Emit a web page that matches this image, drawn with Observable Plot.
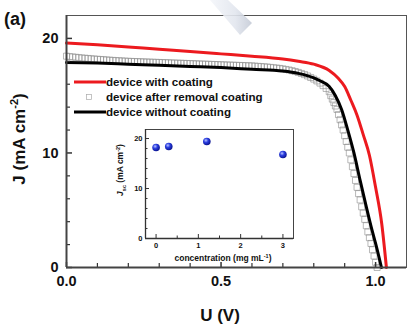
<!DOCTYPE html>
<html>
<head>
<meta charset="utf-8">
<script src="https://cdn.jsdelivr.net/npm/d3@7"></script>
<script src="https://cdn.jsdelivr.net/npm/@observablehq/plot@0.6"></script>
<style>
  html, body { margin: 0; padding: 0; background: #fff; }
  #wrap { position: relative; width: 407px; height: 326px; overflow: hidden; font-family: "Liberation Sans", Arial, sans-serif; }
  #wrap svg { position: absolute; }
</style>
</head>
<body>
<div id="wrap"></div>
<script>
// ---------- data ----------
const uRed = [0, 0.1, 0.2, 0.3, 0.4, 0.5, 0.6, 0.7, 0.75, 0.8, 0.85, 0.88, 0.9, 0.92, 0.94, 0.96, 0.98, 1.0, 1.02, 1.035];
const jRed = [19.6, 19.45, 19.25, 19.05, 18.85, 18.65, 18.45, 18.2, 18.0, 17.75, 17.2, 16.5, 15.8, 14.6, 13.3, 11.6, 9.8, 7.0, 3.8, 0];

const uBlack = [0, 0.1, 0.2, 0.3, 0.4, 0.5, 0.6, 0.7, 0.75, 0.8, 0.82, 0.85, 0.87, 0.89, 0.91, 0.93, 0.95, 0.97, 0.99, 1.0, 1.019];
const jBlack = [17.9, 17.85, 17.75, 17.65, 17.55, 17.45, 17.3, 17.15, 16.95, 16.55, 16.3, 15.8, 15.0, 13.8, 12.0, 10.0, 7.6, 5.3, 3.1, 2.1, 0];

const uGray = [
  0.00, 0.01, 0.02, 0.03, 0.04, 0.05, 0.06, 0.07, 0.08, 0.09,
  0.10, 0.11, 0.12, 0.13, 0.14, 0.15, 0.16, 0.17, 0.18, 0.19,
  0.20, 0.21, 0.22, 0.23, 0.24, 0.25, 0.26, 0.27, 0.28, 0.29,
  0.30, 0.31, 0.32, 0.33, 0.34, 0.35, 0.36, 0.37, 0.38, 0.39,
  0.40, 0.41, 0.42, 0.43, 0.44, 0.45, 0.46, 0.47, 0.48, 0.49,
  0.50, 0.51, 0.52, 0.53, 0.54, 0.55, 0.56, 0.57, 0.58, 0.59,
  0.60, 0.61, 0.62, 0.63, 0.64, 0.65, 0.66, 0.67, 0.68, 0.69,
  0.70, 0.71, 0.72, 0.73, 0.74, 0.75, 0.76, 0.77, 0.78, 0.79,
  0.80, 0.81, 0.82, 0.83, 0.84, 0.85,
  0.855, 0.860, 0.865, 0.870, 0.875, 0.880, 0.885, 0.890, 0.895, 0.900,
  0.905, 0.910, 0.915, 0.920, 0.925, 0.930, 0.935, 0.940, 0.945, 0.950,
  0.955, 0.960, 0.965, 0.970, 0.975, 0.980, 0.985, 0.990, 0.995, 1.000,
  1.005
];
const jGray = [
  18.45, 18.41, 18.38, 18.35, 18.32, 18.29, 18.27, 18.25, 18.22, 18.20,
  18.18, 18.16, 18.14, 18.12, 18.10, 18.08, 18.06, 18.05, 18.03, 18.02,
  18.00, 17.99, 17.98, 17.97, 17.96, 17.95, 17.94, 17.93, 17.92, 17.91,
  17.90, 17.89, 17.88, 17.87, 17.86, 17.85, 17.84, 17.83, 17.82, 17.81,
  17.80, 17.79, 17.78, 17.77, 17.76, 17.75, 17.74, 17.73, 17.72, 17.71,
  17.70, 17.69, 17.68, 17.67, 17.66, 17.65, 17.64, 17.63, 17.62, 17.61,
  17.60, 17.58, 17.56, 17.54, 17.52, 17.50, 17.47, 17.44, 17.41, 17.38,
  17.34, 17.29, 17.24, 17.18, 17.11, 17.03, 16.94, 16.84, 16.72, 16.59,
  16.45, 16.29, 16.10, 15.88, 15.63, 15.35,
  15.0, 14.7, 14.4, 14.1, 13.8, 13.35, 12.9, 12.45, 12.0, 11.5,
  11.0, 10.5, 10.0, 9.4, 8.8, 8.2, 7.6, 7.0, 6.45, 5.9,
  5.3, 4.75, 4.2, 3.65, 3.1, 2.6, 2.1, 1.55, 1.0, 0.45,
  0.0
];

const seriesNames = ["device with coating", "device after removal coating", "device without coating"];

// inset
const concentration = [0, 0.3, 1.2, 3];
const jsc = [18.2, 18.4, 19.4, 16.8];

// ticks
const xMajor = [0, 0.5, 1.0];
const xMinor = [0.1, 0.2, 0.3, 0.4, 0.6, 0.7, 0.8, 0.9];
const yMajor = [0, 10, 20];
const yMinor = [2, 4, 6, 8, 12, 14, 16, 18];
const inXMajor = [0, 1, 2, 3];
const inXMinor = [0.5, 1.5, 2.5];
const inYMajor = [0, 10, 20];
const inYMinor = [2, 4, 6, 8, 12, 14, 16, 18];

// ---------- build ----------
const zipUJ = (u, j) => u.map((d, i) => ({u: d, j: j[i]}));
const red = zipUJ(uRed, jRed);
const black = zipUJ(uBlack, jBlack);
const gray = zipUJ(uGray, jGray);
const inset = concentration.map((c, i) => ({c, j: jsc[i]}));

const FONT = "'Liberation Sans', Arial, sans-serif";
const W = 407, H = 326, ML = 66, MR = 1, MT = 15, MB = 59;
const PW = W - ML - MR, PH = H - MT - MB;

const main = Plot.plot({
  width: W, height: H,
  marginLeft: ML, marginRight: MR, marginTop: MT, marginBottom: MB,
  style: {fontFamily: FONT, background: "transparent", color: "#111"},
  x: {domain: [0, 1.1]},
  y: {domain: [0, 22]},
  marks: [
    Plot.frame({stroke: "#555", strokeWidth: 1}),
    Plot.dot(gray, {x: "u", y: "j", symbol: "square", r: 3.4, stroke: "#8a8a8a", strokeWidth: 0.6, fill: "none"}),
    Plot.line(black, {x: "u", y: "j", stroke: "#000", strokeWidth: 3, curve: "monotone-x"}),
    Plot.line(red, {x: "u", y: "j", stroke: "#ec1a1f", strokeWidth: 3, curve: "monotone-x"}),
    Plot.tickY(yMajor, {y: d => d, insetRight: PW - 6, stroke: "#333", strokeWidth: 1.5}),
    Plot.tickY(yMinor, {y: d => d, insetRight: PW - 4, stroke: "#333", strokeWidth: 1.2}),
    Plot.tickX(xMajor, {x: d => d, insetTop: PH - 5, stroke: "#333", strokeWidth: 1.5}),
    Plot.tickX(xMinor, {x: d => d, insetTop: PH - 4, stroke: "#333", strokeWidth: 1.2}),
    Plot.axisX(xMajor, {tickSize: 0, tickPadding: 8, tickFormat: d3.format(".1f"), fontSize: 14.5, fontWeight: "bold", label: null}),
    Plot.axisY(yMajor, {tickSize: 0, tickPadding: 8, fontSize: 14.5, fontWeight: "bold", label: null}),
    Plot.ruleX([0], {stroke: "#444", strokeWidth: 2}),
    Plot.ruleY([0], {stroke: "#444", strokeWidth: 2})
  ]
});
main.style.left = "0px"; main.style.top = "0px";
document.getElementById("wrap").appendChild(main);

const ms = d3.select(main);
// (a)
ms.append("text").attr("x", 4).attr("y", 25).attr("text-anchor", "start").attr("font-size", 18).attr("font-weight", "bold")
  .attr("font-family", FONT).attr("fill", "#111").text("(a)");
// x label
ms.append("text").attr("x", 220).attr("y", 321).attr("text-anchor", "middle").attr("font-size", 17)
  .attr("font-weight", "bold").attr("font-family", FONT).attr("fill", "#111").text("U (V)");
// y label
const yl = ms.append("text").attr("transform", "translate(25,139) rotate(-90)").attr("text-anchor", "middle")
  .attr("font-size", 17).attr("font-weight", "bold").attr("font-family", FONT).attr("fill", "#111");
yl.append("tspan").text("J (mA cm");
yl.append("tspan").attr("dy", -7).attr("font-size", 11).text("-2");
yl.append("tspan").attr("dy", 7).text(")");

// legend
const lg = ms.append("g").attr("font-family", FONT).attr("font-weight", "bold").attr("font-size", 11.6)
  .attr("fill", "#111").attr("text-anchor", "start");
lg.append("line").attr("x1", 74).attr("x2", 106).attr("y1", 82).attr("y2", 82).attr("stroke", "#ec1a1f").attr("stroke-width", 3);
lg.append("text").attr("x", 106).attr("y", 86).text(seriesNames[0]);
lg.append("rect").attr("x", 86.5).attr("y", 94.5).attr("width", 5).attr("height", 5).attr("fill", "none").attr("stroke", "#aaa").attr("stroke-width", 0.7);
lg.append("text").attr("x", 106).attr("y", 101).text(seriesNames[1]);
lg.append("line").attr("x1", 74).attr("x2", 106).attr("y1", 112).attr("y2", 112).attr("stroke", "#000").attr("stroke-width", 3);
lg.append("text").attr("x", 106).attr("y", 116).text(seriesNames[2]);

// decorative stick at top (scan artifact)
const defsM = ms.append("defs");
const sg = defsM.append("linearGradient").attr("id", "stick").attr("x1", 0).attr("y1", 0).attr("x2", 1).attr("y2", 0);
sg.append("stop").attr("offset", 0).attr("stop-color", "#f4f6fa");
sg.append("stop").attr("offset", 0.6).attr("stop-color", "#e2e6ee");
sg.append("stop").attr("offset", 1).attr("stop-color", "#c4cad6");
ms.append("polygon").attr("points", "210,0 228,0 252,23 240,35").attr("fill", "url(#stick)").attr("opacity", 0.9);

// ---------- inset ----------
const IW = 190, IH = 145, IML = 35, IMR = 7, IMT = 4, IMB = 32;
const IPW = IW - IML - IMR, IPH = IH - IMT - IMB;
const ins = Plot.plot({
  width: IW, height: IH,
  marginLeft: IML, marginRight: IMR, marginTop: IMT, marginBottom: IMB,
  style: {fontFamily: FONT, background: "transparent", color: "#111"},
  x: {domain: [-0.25, 3.25]},
  y: {domain: [0, 21.8]},
  marks: [
    Plot.frame({stroke: "#444", strokeWidth: 1}),
    Plot.tickY(inYMajor, {y: d => d, insetRight: IPW - 4, stroke: "#333"}),
    Plot.tickY(inYMinor, {y: d => d, insetRight: IPW - 2.5, stroke: "#333"}),
    Plot.tickX(inXMajor, {x: d => d, insetTop: IPH - 4, stroke: "#333"}),
    Plot.tickX(inXMinor, {x: d => d, insetTop: IPH - 2.5, stroke: "#333"}),
    Plot.axisX(inXMajor, {tickSize: 0, tickPadding: 4, fontSize: 7.5, fontWeight: "bold", label: null}),
    Plot.axisY(inYMajor, {tickSize: 0, tickPadding: 3, fontSize: 7.5, fontWeight: "bold", label: null}),
    Plot.ruleX([-0.25], {stroke: "#333", strokeWidth: 1.3}),
    Plot.ruleY([0], {stroke: "#333", strokeWidth: 1.3}),
    Plot.dot(inset, {x: "c", y: "j", r: 3.8, fill: "url(#ball)", stroke: "none"})
  ]
});
ins.style.left = "110px"; ins.style.top = "125px";
document.getElementById("wrap").appendChild(ins);
const is = d3.select(ins);
const bg = is.insert("defs", ":first-child").append("radialGradient").attr("id", "ball")
  .attr("cx", 0.38).attr("cy", 0.35).attr("r", 0.65);
bg.append("stop").attr("offset", 0).attr("stop-color", "#b8c4ff");
bg.append("stop").attr("offset", 0.45).attr("stop-color", "#2a3de0");
bg.append("stop").attr("offset", 1).attr("stop-color", "#0a1490");

const ixl = is.append("text").attr("x", 113).attr("y", 136).attr("text-anchor", "middle")
  .attr("font-size", 8.5).attr("font-weight", "bold").attr("font-family", FONT).attr("fill", "#111");
ixl.append("tspan").text("concentration (mg mL");
ixl.append("tspan").attr("dy", -3.5).attr("font-size", 5.5).text("-1");
ixl.append("tspan").attr("dy", 3.5).text(")");

const iyl = is.append("text").attr("transform", "translate(13,45) rotate(-90)").attr("text-anchor", "middle")
  .attr("font-size", 8.5).attr("font-weight", "bold").attr("font-family", FONT).attr("fill", "#111");
iyl.append("tspan").attr("font-style", "italic").text("J");
iyl.append("tspan").attr("dy", 2.5).attr("font-size", 5.5).text("sc");
iyl.append("tspan").attr("dy", -2.5).text(" (mA cm");
iyl.append("tspan").attr("dy", -3.5).attr("font-size", 5.5).text("-2");
iyl.append("tspan").attr("dy", 3.5).text(")");
</script>
</body>
</html>
